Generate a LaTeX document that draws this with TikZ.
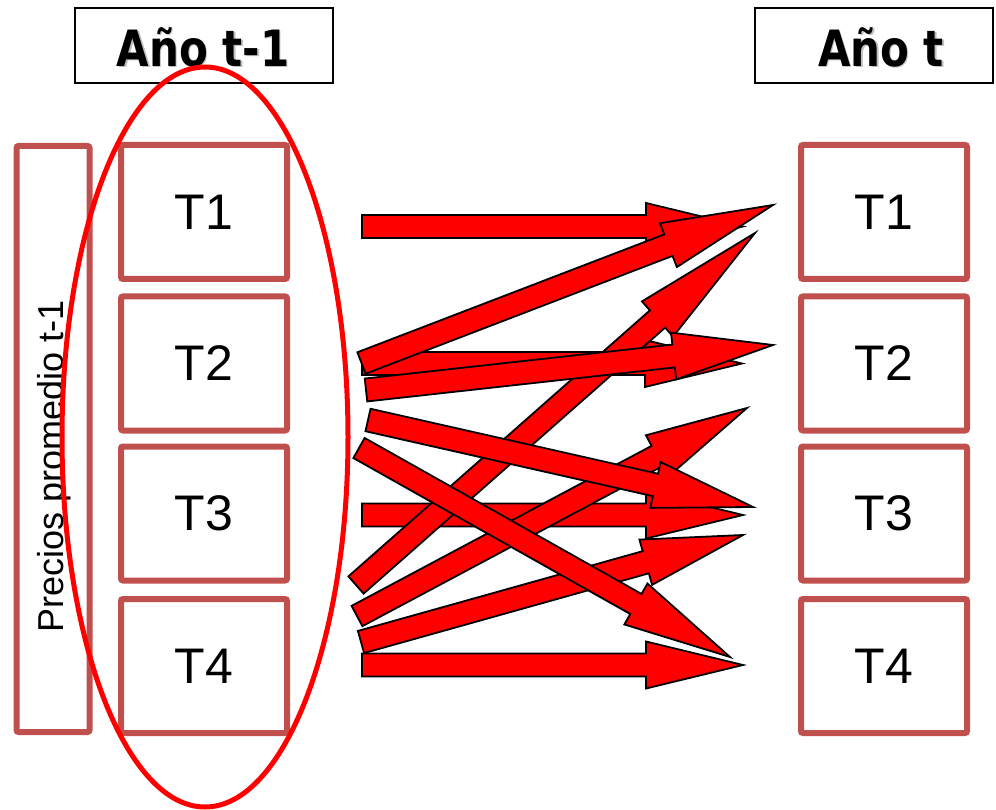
\documentclass[tikz,border=0pt]{standalone}
\usepackage{fontspec}
\setmainfont{Liberation Sans}
\newfontfamily\hdrfont{DejaVu Sans}
\usetikzlibrary{calc}
\definecolor{boxred}{RGB}{192,80,77}
\tikzset{
  tbox/.style={draw=boxred, line width=6pt, rounded corners=2pt, minimum width=166pt, minimum height=134pt, inner sep=0pt, font=\fontsize{50}{56}\selectfont},
  hbox/.style={draw=black, line width=2.5pt, minimum height=75pt, inner sep=0pt},
  htext/.style={inner sep=0pt, font=\hdrfont\bfseries\fontsize{50}{56}\selectfont},
  hshadow/.style={htext, text=black!25},
  barrow/.style={fill=red, draw=black, line width=1.8pt, line join=miter},
}
\newcommand\blockarrow[3][100pt]{%
  \coordinate (hb) at ($(#3)!#1!(#2)$);
  \draw[barrow] ($(#2)!11.5pt!90:(#3)$) -- ($(hb)!11.5pt!90:(#3)$) -- ($(hb)!23.5pt!90:(#3)$) -- (#3) -- ($(hb)!23.5pt!-90:(#3)$) -- ($(hb)!11.5pt!-90:(#3)$) -- ($(#2)!11.5pt!-90:(#3)$) -- cycle;}
\begin{document}
\begin{tikzpicture}[x=1pt,y=-1pt]
\useasboundingbox (0,0) rectangle (996,810);
% headers
\node[hbox, minimum width=258pt] (hl) at (204,45.5) {};
\node[hbox, minimum width=238pt] (hr) at (874,45.5) {};
\node[hshadow] (hls) at (204.5,48.5) {\scalebox{0.84}[1]{Año t-1}};
\node[htext] (hlt) at (203,47) {\scalebox{0.84}[1]{Año t-1}};
\node[hshadow] (hrs) at (882.5,48.5) {\scalebox{0.84}[1]{Año t}};
\node[htext] (hrt) at (881,47) {\scalebox{0.84}[1]{Año t}};
% left column
\node[draw=boxred, line width=6pt, rounded corners=2pt, minimum width=73pt, minimum height=586pt, inner sep=0pt] (pp) at (53,439) {};
\node[rotate=90, inner sep=0pt, font=\fontsize{36}{40}\selectfont] (ppt) at (54,466) {Precios promedio t-1};
\node[tbox] (l1) at (204,212) {T1};
\node[tbox] (l2) at (204,363.5) {T2};
\node[tbox] (l3) at (204,513.5) {T3};
\node[tbox] (l4) at (204,666) {T4};
\node[tbox] (r1) at (884,212) {T1};
\node[tbox] (r2) at (884,363.5) {T2};
\node[tbox] (r3) at (884,513.5) {T3};
\node[tbox] (r4) at (884,666) {T4};
% ellipse
\draw[red, line width=5pt] (205,437) ellipse [x radius=143pt, y radius=370pt];
% arrow end points
\coordinate (a1s) at (362,226.5);  \coordinate (a1e) at (743,226.5);
\coordinate (a2s) at (361.5,363);  \coordinate (a2e) at (773,205);
\coordinate (a3s) at (356,585);    \coordinate (a3e) at (755,233);
\coordinate (a4s) at (362,363.5);  \coordinate (a4e) at (742,363.5);
\coordinate (a5s) at (366,390);    \coordinate (a5e) at (773,345);
\coordinate (a6s) at (368,420);    \coordinate (a6e) at (753,507);
\coordinate (a7s) at (359,448);    \coordinate (a7e) at (730,657);
\coordinate (a8s) at (362,515);    \coordinate (a8e) at (743,515);
\coordinate (a9s) at (357,616);    \coordinate (a9e) at (747,408);
\coordinate (a10s) at (361,642);   \coordinate (a10e) at (743,535);
\coordinate (a11s) at (362,665);   \coordinate (a11e) at (743,665);
% arrows
\blockarrow[97pt]{a1s}{a1e}
\blockarrow[97pt]{a4s}{a4e}
\blockarrow[97pt]{a8s}{a8e}
\blockarrow[97pt]{a11s}{a11e}
\blockarrow[130pt]{a3s}{a3e}
\blockarrow[102pt]{a9s}{a9e}
\blockarrow[101pt]{a10s}{a10e}
\blockarrow[108pt]{a7s}{a7e}
\blockarrow[100pt]{a6s}{a6e}
\blockarrow[112pt]{a2s}{a2e}
\blockarrow[100pt]{a5s}{a5e}
\end{tikzpicture}
\end{document}
